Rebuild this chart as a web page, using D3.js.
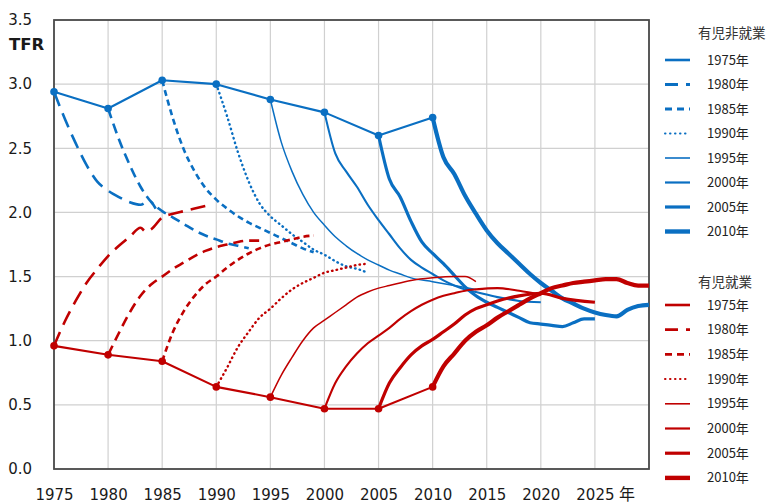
<!DOCTYPE html>
<html><head><meta charset="utf-8">
<script src="https://cdn.jsdelivr.net/npm/d3@7/dist/d3.min.js"></script>
<style>body{margin:0;background:#fff;} svg{display:block;}</style>
</head><body>
<svg id="c" width="772" height="504"></svg>
<script>
// ---------- data ----------
const xTicks = [1975,1980,1985,1990,1995,2000,2005,2010,2015,2020,2025];
const yTicks = [0,0.5,1.0,1.5,2.0,2.5,3.0,3.5];
const legendLabels = ["1975年","1980年","1985年","1990年","1995年","2000年","2005年","2010年"];
const groupTitles = ["有児非就業","有児就業"];
const baseYears = [1975,1980,1985,1990,1995,2000,2005,2010];
const blueBase = [2.94,2.81,3.03,3.00,2.88,2.78,2.60,2.74];
const redBase  = [0.96,0.89,0.84,0.64,0.56,0.47,0.47,0.64];

const blue1975 = [[1975,2.94],[1976,2.73],[1977,2.54],[1978,2.37],[1979,2.24],[1980,2.17],[1981,2.12],[1982,2.08],[1983,2.06],[1983.8,2.09],[1984.4,2.03]];
const blue1980 = [[1980,2.81],[1981,2.57],[1982,2.37],[1983,2.2],[1984,2.08],[1985,2.01],[1986,1.96],[1987,1.91],[1988,1.86],[1989,1.82],[1990,1.79],[1991,1.76],[1992,1.74],[1993,1.72]];
const blue1985 = [[1985,3.03],[1986,2.73],[1987,2.49],[1988,2.32],[1989,2.19],[1990,2.1],[1991,2.03],[1992,1.97],[1993,1.92],[1994,1.88],[1995,1.84],[1996,1.8],[1997,1.76],[1998,1.72],[1999,1.69]];
const blue1990 = [[1990,3.00],[1991,2.75],[1992,2.47],[1993,2.24],[1994,2.07],[1995,1.97],[1996,1.9],[1997,1.83],[1998,1.77],[1999,1.71],[2000,1.67],[2001,1.62],[2002,1.58],[2003,1.56],[2004,1.53]];
const blue1995 = [[1995,2.88],[1996,2.55],[1997,2.32],[1998,2.14],[1999,2.0],[2000,1.9],[2001,1.81],[2002,1.74],[2003,1.68],[2004,1.63],[2005,1.59],[2006,1.55],[2007,1.52],[2008,1.49],[2010,1.46],[2012,1.43],[2014,1.40]];
const blue2000 = [[2000,2.78],[2001,2.46],[2002,2.32],[2003,2.2],[2004,2.06],[2005,1.94],[2006,1.83],[2007,1.72],[2008,1.63],[2009,1.57],[2010,1.52],[2011,1.47],[2012,1.43],[2013,1.40],[2014,1.38],[2016,1.34],[2018,1.31],[2020,1.30]];
const blue2005 = [[2005,2.60],[2006,2.26],[2007,2.12],[2008,1.93],[2009,1.77],[2010,1.68],[2011,1.6],[2012,1.51],[2013,1.42],[2014,1.35],[2015,1.3],[2016,1.26],[2017,1.22],[2018,1.18],[2019,1.14],[2020,1.13],[2021,1.12],[2022,1.11],[2023,1.14],[2024,1.17],[2025,1.17]];
const blue2010 = [[2010,2.74],[2011,2.43],[2012,2.3],[2013,2.13],[2014,1.99],[2015,1.86],[2016,1.76],[2017,1.68],[2018,1.6],[2019,1.52],[2020,1.45],[2021,1.39],[2022,1.33],[2023,1.29],[2024,1.25],[2025,1.22],[2026,1.2],[2027,1.19],[2028,1.24],[2029,1.27],[2030,1.28]];

const red1975 = [[1975,0.96],[1976,1.15],[1977,1.31],[1978,1.45],[1979,1.56],[1980,1.66],[1981,1.74],[1982,1.81],[1983,1.88],[1983.5,1.85],[1984,1.87],[1985,1.96],[1986,1.99],[1987,2.01],[1988,2.03],[1989,2.05]];
const red1980 = [[1980,0.89],[1981,1.06],[1982,1.22],[1983,1.35],[1984,1.44],[1985,1.5],[1986,1.56],[1987,1.61],[1988,1.66],[1989,1.7],[1990,1.73],[1991,1.75],[1992,1.77],[1993,1.78],[1994,1.78]];
const red1985 = [[1985,0.84],[1986,1.07],[1987,1.23],[1988,1.35],[1989,1.44],[1990,1.5],[1991,1.57],[1992,1.63],[1993,1.68],[1994,1.72],[1995,1.75],[1996,1.77],[1997,1.79],[1998,1.81],[1999,1.82]];
const red1990 = [[1990,0.64],[1991,0.79],[1992,0.95],[1993,1.07],[1994,1.18],[1995,1.25],[1996,1.33],[1997,1.4],[1998,1.45],[1999,1.49],[2000,1.53],[2001,1.55],[2002,1.57],[2003,1.59],[2004,1.6]];
const red1995 = [[1995,0.56],[1996,0.73],[1997,0.87],[1998,1.0],[1999,1.1],[2000,1.16],[2001,1.22],[2002,1.28],[2003,1.34],[2004,1.38],[2005,1.41],[2006,1.43],[2008,1.47],[2010,1.49],[2012,1.5],[2013,1.5],[2014,1.46]];
const red2000 = [[2000,0.47],[2001,0.67],[2002,0.8],[2003,0.9],[2004,0.98],[2005,1.04],[2006,1.1],[2007,1.17],[2008,1.23],[2009,1.28],[2010,1.32],[2011,1.35],[2012,1.37],[2013,1.39],[2014,1.4],[2016,1.41],[2018,1.39],[2020,1.36]];
const red2005 = [[2005,0.47],[2006,0.67],[2007,0.79],[2008,0.89],[2009,0.96],[2010,1.01],[2011,1.07],[2012,1.13],[2013,1.2],[2014,1.25],[2015,1.28],[2016,1.31],[2018,1.35],[2020,1.37],[2022,1.33],[2025,1.30]];
const red2010 = [[2010,0.64],[2011,0.8],[2012,0.9],[2013,1.0],[2014,1.07],[2015,1.12],[2016,1.18],[2017,1.23],[2018,1.28],[2019,1.33],[2020,1.37],[2021,1.41],[2022,1.43],[2023,1.45],[2024,1.46],[2025,1.47],[2026,1.48],[2027,1.48],[2028,1.45],[2029,1.43],[2030,1.43]];

const blueCurves = [blue1975,blue1980,blue1985,blue1990,blue1995,blue2000,blue2005,blue2010];
const redCurves  = [red1975,red1980,red1985,red1990,red1995,red2000,red2005,red2010];

// ---------- styles ----------
const BLUE = "#0a6fc2", RED = "#c00000";
const curveStyles = [
  {w:2.6, dash:"15,8"},
  {w:2.6, dash:"10,6"},
  {w:2.6, dash:"6,4"},
  {w:2.4, dash:"0.5,4.2", cap:"round"},
  {w:1.5, dash:null},
  {w:2.1, dash:null},
  {w:3.2, dash:null},
  {w:4.2, dash:null}
];
const legendStyles = [
  {w:2.6, dash:null},
  {w:2.8, dash:"13,8"},
  {w:2.8, dash:"7,5"},
  {w:2.0, dash:"0.5,4.5", cap:"round"},
  {w:1.6, dash:null},
  {w:2.2, dash:null},
  {w:3.2, dash:null},
  {w:4.4, dash:null}
];

// ---------- chart ----------
const svg = d3.select("#c");
const L = 54, R = 649, T = 20, B = 469;
const x = d3.scaleLinear().domain([1975,2030]).range([L,R]);
const y = d3.scaleLinear().domain([0,3.5]).range([B,T]);

const font = "'DejaVu Sans', Verdana, sans-serif";

// grid
const grid = svg.append("g").attr("stroke","#d0d0d0").attr("stroke-width",1.2);
d3.range(1975,2031,5).forEach(v=>{
  grid.append("line").attr("x1",x(v)).attr("x2",x(v)).attr("y1",T).attr("y2",B);
});
yTicks.forEach(v=>{
  grid.append("line").attr("x1",L).attr("x2",R).attr("y1",y(v)).attr("y2",y(v));
});

// axes via d3
const xAxis = d3.axisBottom(x).tickValues(xTicks).tickSize(0).tickPadding(0).tickFormat(d3.format("d"));
const gx = svg.append("g").attr("transform",`translate(0,${B})`).call(xAxis);
gx.select(".domain").remove();
gx.selectAll("text").attr("font-family",font).attr("font-size",15).attr("fill","#1a1a1a")
  .attr("dy",null).attr("y",31);

const yAxis = d3.axisLeft(y).tickValues(yTicks).tickSize(0).tickPadding(22).tickFormat(d3.format(".1f"));
const gy = svg.append("g").attr("transform",`translate(${L},0)`).call(yAxis);
gy.select(".domain").remove();
gy.selectAll("text").attr("font-family",font).attr("font-size",15).attr("fill","#1a1a1a");

svg.append("text").attr("x",9).attr("y",50).attr("font-family",font).attr("font-size",16.5)
  .attr("font-weight","bold").attr("fill","#1a1a1a").text("TFR");
svg.append("text").attr("x",x(2025)+32).attr("y",B+31).attr("text-anchor","middle")
  .attr("font-family","'Noto Sans CJK JP', sans-serif").attr("font-size",16).attr("fill","#1a1a1a").text("年");

// border
svg.append("rect").attr("x",L).attr("y",T).attr("width",R-L).attr("height",B-T)
  .attr("fill","none").attr("stroke","#4a4a4a").attr("stroke-width",1.8);

const line = d3.line().x(d=>x(d[0])).y(d=>y(d[1])).curve(d3.curveMonotoneX);

function drawGroup(curves, base, color){
  const g = svg.append("g");
  curves.forEach((c,i)=>{
    const s = curveStyles[i];
    g.append("path").attr("d",line(c)).attr("fill","none").attr("stroke",color)
      .attr("stroke-width",s.w).attr("stroke-dasharray",s.dash)
      .attr("stroke-linecap",s.cap||"butt").attr("stroke-linejoin","round");
  });
  const pts = baseYears.map((yr,i)=>[yr,base[i]]);
  g.append("path").attr("d",d3.line().x(d=>x(d[0])).y(d=>y(d[1]))(pts)).attr("fill","none")
    .attr("stroke",color).attr("stroke-width",2.1).attr("stroke-linejoin","round");
  g.selectAll("circle").data(pts).join("circle").attr("cx",d=>x(d[0])).attr("cy",d=>y(d[1]))
    .attr("r",3.8).attr("fill",color);
}
drawGroup(blueCurves, blueBase, BLUE);
drawGroup(redCurves, redBase, RED);

// legend
const jp = "'Noto Sans CJK JP', sans-serif";
function legend(title, titleY, startY, step, color){
  svg.append("text").attr("x",698).attr("y",titleY).attr("dy","0.35em").attr("font-family",jp)
    .attr("font-size",13.5).attr("fill","#333").text(title);
  legendLabels.forEach((lab,i)=>{
    const yy = startY + i*step;
    const s = legendStyles[i];
    svg.append("line").attr("x1",665).attr("x2",690).attr("y1",yy).attr("y2",yy)
      .attr("stroke",color).attr("stroke-width",s.w).attr("stroke-dasharray",s.dash)
      .attr("stroke-linecap",s.cap||"butt");
    svg.append("text").attr("x",707).attr("y",yy).attr("dy","0.35em").attr("font-family",jp)
      .attr("font-size",13).attr("fill","#222").text(lab);
  });
}
legend(groupTitles[0], 33, 60, 24.5, BLUE);
legend(groupTitles[1], 282, 305, 24.7, RED);
</script>
</body></html>
